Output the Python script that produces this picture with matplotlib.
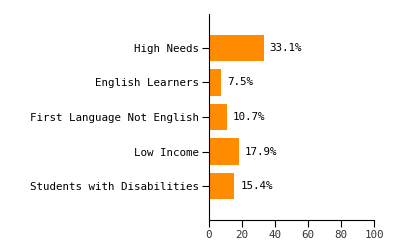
import numpy as np
import matplotlib.pyplot as plt

categories = ['High Needs', 'English Learners', 'First Language Not English',
              'Low Income', 'Students with Disabilities']
values = [33.1, 7.5, 10.7, 17.9, 15.4]

plt.rcParams['font.family'] = 'DejaVu Sans Mono'
fs = 7.8

fig = plt.figure(figsize=(4, 2.5), dpi=100)
ax = fig.add_axes([0.5225, 0.12, 0.4125, 0.824])

y = np.arange(len(categories))
ax.barh(y, values, height=0.78, color='#ff8c00')
for yi, v in zip(y, values):
    ax.text(v + 3.5, yi, f'{v}%', va='center', ha='left', fontsize=fs)

ax.set_xlim(0, 100)
ax.set_ylim(len(categories) - 0.015, -0.985)
ax.set_yticks(y)
ax.set_yticklabels(categories, fontsize=fs)
ax.set_xticks([0, 20, 40, 60, 80, 100])
ax.tick_params(axis='x', labelsize=fs, length=5, pad=2, labelcolor='#333333')
ax.tick_params(axis='y', length=5, pad=2)
for s in ['top', 'right']:
    ax.spines[s].set_visible(False)

fig.savefig('out.png', dpi=100)
